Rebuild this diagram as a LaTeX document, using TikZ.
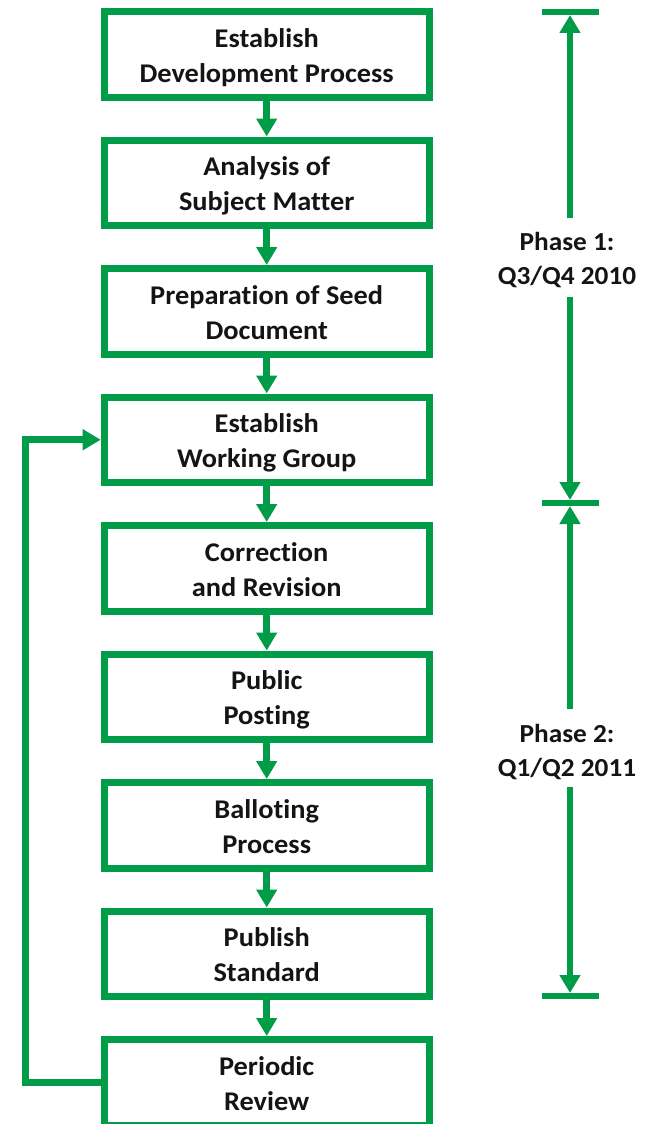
\documentclass[tikz,border=0pt]{standalone}
\usepackage{fontspec}
\setmainfont{Carlito}[Ligatures={NoCommon}, FakeStretch=1.05]
\usetikzlibrary{arrows.meta}
\definecolor{grn}{RGB}{0,156,72}
\definecolor{txt}{RGB}{20,20,20}
\newcommand\twolines[2]{\rule{0pt}{27pt}#1\\#2\rule[-6pt]{0pt}{0pt}}
\begin{document}
\begin{tikzpicture}[x=1pt,y=-1pt,
  stepbox/.style={draw=grn, line width=7pt, minimum width=325pt, minimum height=85.5pt,
    inner sep=0pt, align=center, text=txt, font=\bfseries\fontsize{27}{35}\selectfont},
  flow/.style={draw=grn, line width=7pt, -{Triangle[width=20pt,length=18pt]}},
  brk/.style={draw=grn, line width=6pt, -{Triangle[width=20pt,length=18pt]}},
  bar/.style={draw=grn, line width=6pt},
  phase/.style={align=center, text=txt, inner sep=0pt, font=\bfseries\fontsize{26}{34}\selectfont}]
\useasboundingbox[fill=white] (0,0) rectangle (646,1124);
\node[stepbox] (b1) at (266.7,54.25) {\twolines{Establish}{Development Process}};
\node[stepbox] (b2) at (266.7,182.75) {\twolines{Analysis of}{Subject Matter}};
\node[stepbox] (b3) at (266.7,311.25) {\twolines{Preparation of Seed}{Document}};
\node[stepbox] (b4) at (266.7,439.75) {\twolines{Establish}{Working Group}};
\node[stepbox] (b5) at (266.7,568.25) {\twolines{Correction}{and Revision}};
\node[stepbox] (b6) at (266.7,696.75) {\twolines{Public}{Posting}};
\node[stepbox] (b7) at (266.7,825.25) {\twolines{Balloting}{Process}};
\node[stepbox] (b8) at (266.7,953.75) {\twolines{Publish}{Standard}};
\node[stepbox] (b9) at (266.7,1082.25) {\twolines{Periodic}{Review}};
\foreach \a/\b in {b1/b2,b2/b3,b3/b4,b4/b5,b5/b6,b6/b7,b7/b8,b8/b9}
  \draw[flow] (\a) -- (\b);
\coordinate (lp) at (25,1082.25);
\draw[flow] (b9.west) -- (lp) |- (b4.west);
% bracket
\coordinate (t1l) at (542,12); \coordinate (t1r) at (599,12);
\coordinate (t2l) at (542,503); \coordinate (t2r) at (599,503);
\coordinate (t3l) at (542,996); \coordinate (t3r) at (599,996);
\draw[bar] (t1l) -- (t1r);
\draw[bar] (t2l) -- (t2r);
\draw[bar] (t3l) -- (t3r);
\node[phase] (p1) at (567,256.5) {\twolines{Phase 1:}{Q3/Q4 2010}};
\node[phase] (p2) at (567,748.5) {\twolines{Phase 2:}{Q1/Q2 2011}};
\coordinate (g1a) at (570,218); \coordinate (g1b) at (570,297);
\coordinate (g2a) at (570,709); \coordinate (g2b) at (570,787);
\coordinate (e1) at (570,15); \coordinate (e2) at (570,500);
\coordinate (e3) at (570,506); \coordinate (e4) at (570,993);
\draw[brk] (g1a) -- (e1);
\draw[brk] (g1b) -- (e2);
\draw[brk] (g2a) -- (e3);
\draw[brk] (g2b) -- (e4);
\end{tikzpicture}
\end{document}
